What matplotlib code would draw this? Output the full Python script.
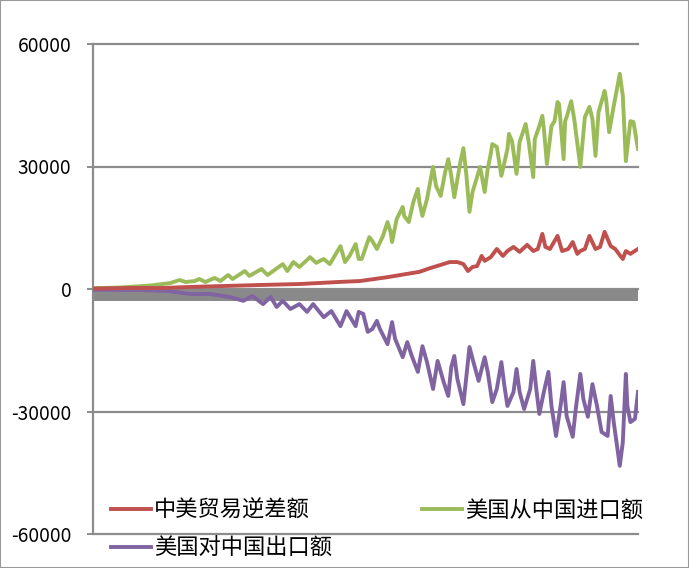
import matplotlib
matplotlib.use("Agg")
import matplotlib.pyplot as plt
from matplotlib.patches import Rectangle

plt.rcParams['font.family'] = ['Noto Sans CJK SC', 'DejaVu Sans']

# ---- data (month index, value) ----
imp_month = [0, 18, 38, 51, 57, 61, 67, 70, 74, 80, 84, 89, 92, 100, 103, 111, 115, 125, 128, 132,
             136, 143, 147, 152, 156, 163, 166, 169, 173, 175, 177, 182, 184, 187, 191, 194, 196, 197,
             200, 204, 205, 208, 211, 214, 215, 217, 220, 224, 226, 229, 232, 234, 236, 238, 242, 244,
             246, 248, 250, 255, 258, 260, 262, 263, 266, 269, 273, 274, 276, 279, 281, 285, 287, 290,
             291, 294, 296, 297, 299, 302, 304, 306, 307, 310, 311, 312, 315, 317, 321, 324, 327, 329,
             331, 333, 337, 338, 340, 343, 347, 349, 351, 354, 356, 359]
imp_value = [200, 370, 860, 1470, 2200, 1700, 1960, 2450, 1700, 2700, 1960, 3430, 2450, 4400, 3200,
             4900, 3430, 6100, 4400, 6600, 5400, 7800, 6400, 7350, 6100, 10500, 6600, 8100, 11000,
             7350, 7350, 12700, 11750, 9800, 13000, 16400, 14000, 11500, 17100, 20100, 17900, 16400,
             21300, 24500, 21300, 17900, 22000, 29900, 25200, 22800, 28650, 31800, 27700, 22500,
             31100, 34500, 27700, 18900, 23750, 29900, 23750, 29400, 33100, 35500, 34800, 27700,
             34300, 38000, 36200, 28200, 36000, 40400, 36000, 27400, 36700, 39900, 42400, 39200,
             30600, 39900, 41100, 45800, 45300, 31800, 41100, 42100, 46000, 41600, 29900, 42100,
             44600, 41600, 32600, 43300, 48500, 46500, 38400, 44800, 52700, 47300, 31300, 41100,
             40900, 34300]

def_month = [0, 24, 46, 64, 86, 110, 136, 161, 176, 194, 202, 215, 222, 229, 235, 240, 244, 247, 250,
             253, 256, 258, 262, 266, 270, 273, 277, 281, 286, 290, 293, 296, 298, 301, 306, 309, 313,
             316, 319, 321, 324, 327, 331, 334, 337, 341, 344, 347, 349, 351, 354, 356, 359]
def_value = [100, 250, 250, 500, 730, 980, 1220, 1700, 1960, 2900, 3400, 4200, 5100, 5900, 6600,
             6600, 6100, 4400, 5400, 5600, 8100, 6900, 7800, 9800, 8100, 9300, 10300, 9100, 10800,
             9300, 9800, 13500, 10300, 9800, 13000, 9300, 9800, 11500, 8600, 9300, 9800, 13000,
             9800, 10300, 14000, 10500, 9800, 8300, 7350, 9300, 8600, 9100, 9800]

exp_month = [0, 31, 49, 64, 77, 90, 99, 105, 112, 117, 121, 125, 130, 136, 141, 145, 152, 157, 163,
             167, 173, 175, 178, 181, 184, 187, 189, 194, 197, 199, 204, 207, 210, 214, 217, 220, 224,
             227, 231, 234, 236, 238, 240, 244, 248, 250, 254, 258, 260, 263, 266, 269, 271, 273, 277,
             279, 281, 284, 288, 290, 292, 294, 297, 300, 302, 305, 308, 310, 312, 316, 318, 321, 323,
             326, 329, 332, 335, 339, 341, 343, 347, 349, 351, 352, 354, 357, 359]
exp_value = [-200, -250, -490, -1220, -1220, -1960, -2900, -1700, -3700, -1960, -4400, -2900, -4900,
             -3700, -5600, -3700, -6900, -5400, -9100, -5400, -9100, -5600, -6100, -10500, -9800,
             -7800, -9800, -13500, -8100, -12200, -16700, -13000, -16400, -20300, -14000, -17900,
             -24500, -17600, -22800, -26200, -19100, -16400, -22000, -28200, -14200, -17100, -22500,
             -16700, -20300, -27700, -24500, -17900, -23750, -28650, -25200, -19600, -25200, -29400,
             -24500, -17600, -24500, -30600, -25200, -20300, -28650, -36000, -28650, -22800, -31100,
             -36200, -29400, -20800, -26900, -31300, -23300, -28650, -35000, -36000, -26200, -32600,
             -43300, -37500, -20800, -28650, -32600, -31800, -25200]

band_top = 0
band_bottom = -2900
y_ticks = [-60000, -30000, 0, 30000, 60000]
labels = ['中美贸易逆差额', '美国从中国进口额', '美国对中国出口额']
colors = ['#C0504D', '#9BBB59', '#8064A2']

fig = plt.figure(figsize=(6.89, 5.68), dpi=100)
ax = fig.add_axes([93/689, 1-534/568, (638-93)/689, (534-44)/568])

grid_c = '#8C8C8C'
for t in y_ticks:
    ax.axhline(t, color=grid_c, lw=1.6, zorder=1, clip_on=False)
ax.axhspan(band_bottom, band_top, color='#898989', lw=0, zorder=2)

l1, = ax.plot(def_month, def_value, color=colors[0], lw=2.8, zorder=4, solid_joinstyle='round')
l2, = ax.plot(imp_month, imp_value, color=colors[1], lw=2.8, zorder=3, solid_joinstyle='round')
l3, = ax.plot(exp_month, exp_value, color=colors[2], lw=2.8, zorder=3, solid_joinstyle='round')

ax.set_xlim(0, 359)
ax.set_ylim(-60000, 60000)
ax.set_yticks(y_ticks)
ax.set_yticklabels([str(t) for t in y_ticks], fontsize=13.8)
ax.tick_params(axis='y', length=4.5, width=1.4, color=grid_c, pad=11)
ax.set_xticks([])
for s in ['top', 'right', 'bottom']:
    ax.spines[s].set_visible(False)
ax.spines['left'].set_color(grid_c)
ax.spines['left'].set_linewidth(1.6)

fig.legend([l1, l3, l2], [labels[0], labels[2], labels[1]], ncol=2, frameon=False,
           loc='upper left', bbox_to_anchor=(95/689, 1-483/568), fontsize=16,
           handlelength=1.8, handletextpad=0.15, columnspacing=4.05, labelspacing=0.67,
           borderpad=0.2)

fig.patches.append(Rectangle((0, 0), 1, 1, transform=fig.transFigure, fill=False,
                             edgecolor='#999999', lw=1.5))
fig.savefig('out.png', dpi=100)
